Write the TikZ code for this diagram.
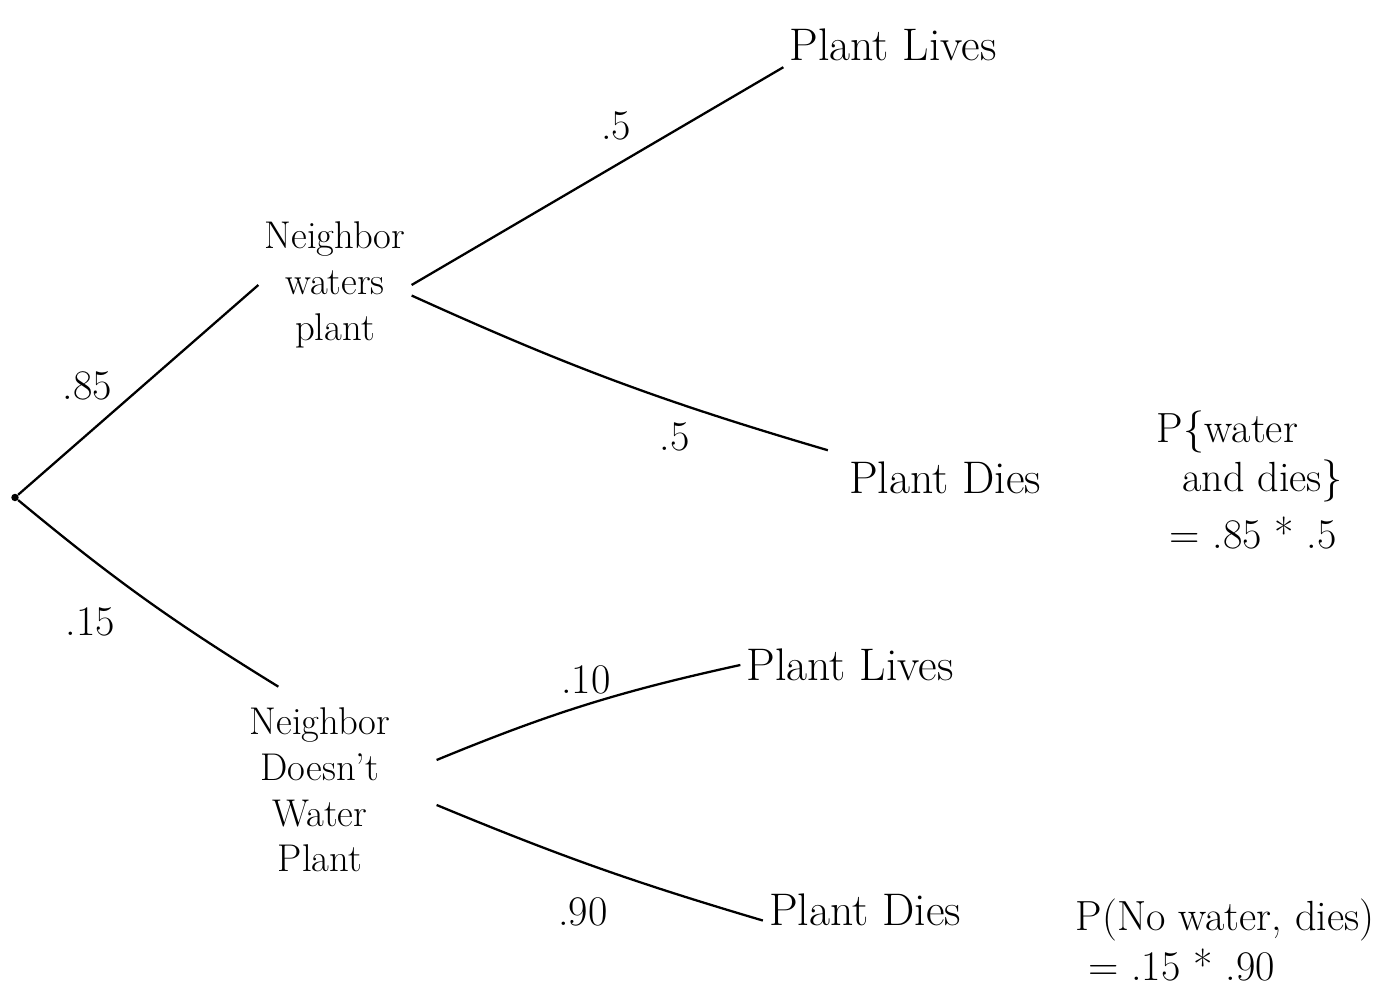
\documentclass[tikz,border=0pt]{standalone}
\begin{document}
\begin{tikzpicture}[auto]
        \useasboundingbox (0,0) rectangle (27.54,19.9);
        \tikzset{outcome/.style={font=\fontsize{26}{30}\selectfont},
                 event/.style={font=\fontsize{22}{26}\selectfont,align=center},
                 prob/.style={font=\fontsize{24}{28}\selectfont},
                 branch/.style={line width=1.3pt}}

        \draw (0.3,9.95) node (root) [circle,fill,inner sep=1.5pt] {};
        \draw (6.7,14.2) node (water) [event] {Neighbor\\waters\\plant};
        \draw (6.4,4.1) node (nowater) [event] {Neighbor\\Doesn't\\Water\\Plant};

        \draw (17.86,19.0) node (livesA) [outcome] {Plant Lives};
        \draw (18.9,10.35) node (diesA) [outcome] {Plant Dies};
        \draw (17.0,6.6) node (livesB) [outcome] {Plant Lives};
        \draw (17.3,1.7) node (diesB) [outcome] {Plant Dies};

        \draw (25.0,10.3) node (calcA) [prob,align=left] {P\{water\\\ \ and dies\}\\[4pt]\ = .85 * .5};
        \draw (24.5,1.1) node (calcB) [prob,align=left] {P(No water, dies)\\\ = .15 * .90};

        \draw [branch] (root) to node [prob,pos=0.42,above left] {.85} (water.west);
        \draw [branch,bend right=4] (root) to node [prob,pos=0.45,below left=6pt] {.15} ([xshift=0.7cm,yshift=0.3cm]nowater.north west);

        \draw [branch] (water.east) to node [prob,pos=0.55,above=10pt] {.5} (livesA.south west);
        \draw [branch,bend right=4] ([yshift=-6pt]water.east) to node [prob,pos=0.65,below=8pt] {.5} ([xshift=-0.3cm,yshift=0.1cm]diesA.north west);

        \draw [branch,bend left=5] ([xshift=0.8cm,yshift=0.6cm]nowater.east) to node [prob,pos=0.5,above=2pt] {.10} (livesB.west);
        \draw [branch,bend right=3] ([xshift=0.8cm,yshift=-0.3cm]nowater.east) to node [prob,pos=0.45,below=16pt] {.90} ([yshift=-6pt]diesB.west);

    \end{tikzpicture}
\end{document}
